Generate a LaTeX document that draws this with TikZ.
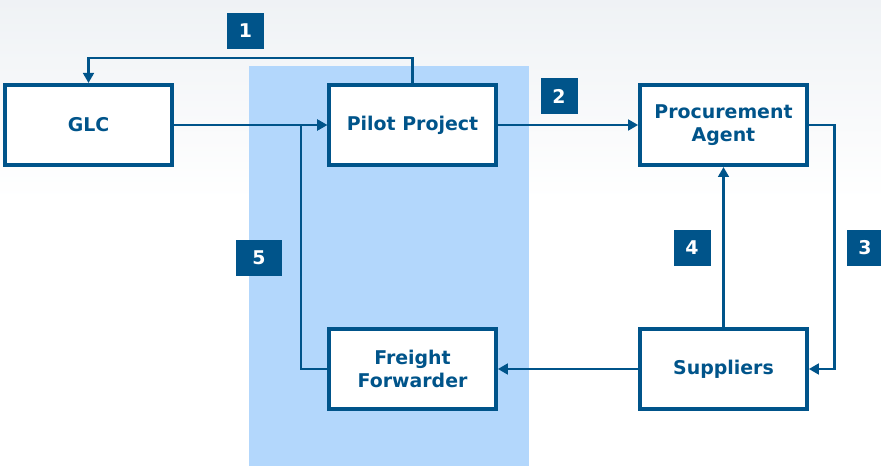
\documentclass[tikz,border=0pt]{standalone}
\usepackage{fontspec}
\setmainfont{DejaVu Sans}
\usetikzlibrary{arrows.meta}
\definecolor{boxblue}{HTML}{00548A}
\definecolor{bandblue}{HTML}{B3D7FC}
\definecolor{skygray}{HTML}{EFF2F5}

\begin{document}
\begin{tikzpicture}[x=0.75pt, y=-0.75pt,
		block/.style={draw=boxblue, line width=3pt, fill=white, text=boxblue,
			minimum width=125pt, minimum height=60pt, align=center,
			font=\bfseries\fontsize{14.2}{16.8}\selectfont},
		tag/.style={fill=boxblue, text=white, minimum width=27.75pt, minimum height=27pt,
			inner sep=0pt, font=\bfseries\fontsize{14.2}{16.8}\selectfont},
		link/.style={draw=boxblue, line width=2.2pt},
		flow/.style={link, -{Triangle[length=7.5pt, width=8pt]}}]
		%%%%% START %%%%%
		
		\useasboundingbox (0, 0) rectangle (881, 466);
		\fill[white] (0, 0) rectangle (881, 466);
		\fill[top color=skygray, bottom color=white] (0, 0) rectangle (881, 200);
		
		% pilot band
		\fill[bandblue] (249, 66) rectangle (529, 466);
		
		\node[block] (glc) at (88.5, 125) {GLC};
		\node[block] (pilot) at (412.5, 125) {Pilot Project};
		\node[block] (agent) at (723.5, 125) {Procurement\\Agent};
		\node[block] (freight) at (412.5, 369) {Freight\\Forwarder};
		\node[block] (suppliers) at (723.5, 369) {Suppliers};
		
		\coordinate (joint) at (301, 125);
		
		\draw[flow] (pilot.north) -- ++(0, -25) -| (glc.north);
		\draw[flow] (glc.east) -- (pilot.west);
		\draw[flow] (pilot.east) -- (agent.west);
		\draw[flow] (agent.east) -- ++(26, 0) |- (suppliers.east);
		\draw[flow] (suppliers.north) -- (agent.south);
		\draw[flow] (suppliers.west) -- (freight.east);
		\draw[flow] (freight.west) -| (joint) -- (pilot.west);
		
		\node[tag] (n1) at (245.5, 31) {1};
		\node[tag] (n2) at (559, 96) {2};
		\node[tag] (n3) at (865, 248) {3};
		\node[tag] (n4) at (692, 248) {4};
		\node[tag, minimum width=34.5pt] (n5) at (259, 258) {5};
		
		%%%%% END %%%%%
\end{tikzpicture}
\end{document}
